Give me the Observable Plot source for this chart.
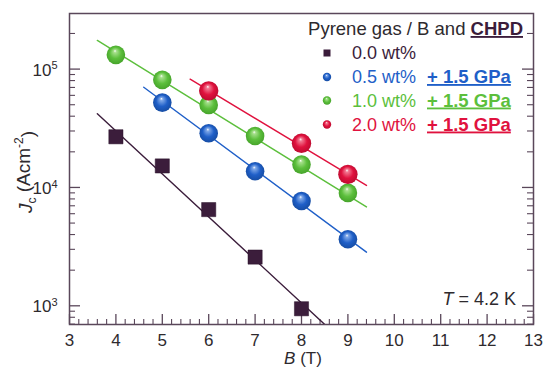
<!DOCTYPE html>
<html>
<head>
<meta charset="utf-8">
<script src="https://cdn.jsdelivr.net/npm/d3@7"></script>
<script src="https://cdn.jsdelivr.net/npm/@observablehq/plot@0.6"></script>
<style>
  html, body { margin: 0; padding: 0; background: #fff; }
  #chart svg { display: block; font-family: "Liberation Sans", Arial, sans-serif; }
</style>
</head>
<body>
<div id="chart"></div>
<script>
// ---- data ----
const b00 = [4, 5, 6, 7, 8];
const j00 = [26800, 15200, 6500, 2580, 944];
const b05 = [5, 6, 7, 8, 9];
const j05 = [52100, 28700, 13700, 7690, 3650];
const b10 = [4, 5, 6, 7, 8, 9];
const j10 = [132000, 81100, 49800, 27200, 15600, 8990];
const b20 = [6, 8, 9];
const j20 = [65500, 23600, 12900];

// fitted lines, end points
const fitB00 = [3.6, 8.6], fitJ00 = [42000, 640];
const fitB05 = [4.6, 9.4], fitJ05 = [70300, 2840];
const fitB10 = [3.6, 9.4], fitJ10 = [174600, 6850];
const fitB20 = [5.6, 9.4], fitJ20 = [82200, 10400];

const xTicks = [3, 4, 5, 6, 7, 8, 9, 10, 11, 12, 13];
const yTicks = [1e3, 1e4, 1e5];

const legendLabels = ["0.0 wt%", "0.5 wt%", "1.0 wt%", "2.0 wt%"];
const legendExtra = ["", "+ 1.5 GPa", "+ 1.5 GPa", "+ 1.5 GPa"];

// ---- styling ----
const C = {k: "#3b1d3b", b: "#1f5fc8", g: "#5cbf3c", r: "#e0123e"};
const axisColor = "#5a475a";
const textColor = "#2e2a2e";

const W = 543, H = 367;
const mL = 69, mR = 10, mT = 13, mB = 43;
const pw = W - mL - mR, ph = H - mT - mB;

const toRows = (bs, js) => bs.map((b, i) => ({B: b, J: js[i]}));
const s00 = toRows(b00, j00), s05 = toRows(b05, j05), s10 = toRows(b10, j10), s20 = toRows(b20, j20);
const f00 = toRows(fitB00, fitJ00), f05 = toRows(fitB05, fitJ05), f10 = toRows(fitB10, fitJ10), f20 = toRows(fitB20, fitJ20);

const xMinor = d3.range(3, 13.0001, 0.2).filter(v => Math.abs(v - Math.round(v)) > 1e-6);
const yMinor = [];
[100, 1000, 10000, 100000].forEach(dec => { for (let m = 2; m <= 9; m++) { const v = m * dec; if (v > 695 && v < 2.95e5) yMinor.push(v); } });

const svg = Plot.plot({
  width: W, height: H,
  marginLeft: mL, marginRight: mR, marginTop: mT, marginBottom: mB,
  style: {fontFamily: "Liberation Sans, Arial, sans-serif", fontSize: "17px", color: textColor, background: "white", overflow: "visible"},
  x: {domain: [3, 13], axis: null},
  y: {type: "log", domain: [695, 2.95e5], axis: null},
  marks: [
    // ticks (inward)
    Plot.tickX(xTicks, {x: d => d, insetTop: ph - 10, stroke: axisColor, strokeWidth: 1.3}),
    Plot.tickX(xMinor, {x: d => d, insetTop: ph - 5, stroke: axisColor, strokeWidth: 1.1}),
    Plot.tickY(yTicks, {y: d => d, insetRight: pw - 11, stroke: axisColor, strokeWidth: 1.3}),
    Plot.tickY(yMinor, {y: d => d, insetRight: pw - 6, stroke: axisColor, strokeWidth: 1.1}),
    Plot.tickY(yTicks, {y: d => d, insetLeft: pw - 11, stroke: axisColor, strokeWidth: 1.3}),
    Plot.tickY(yMinor, {y: d => d, insetLeft: pw - 6, stroke: axisColor, strokeWidth: 1.1}),
    // tick labels
    Plot.text(xTicks, {x: d => d, frameAnchor: "bottom", lineAnchor: "top", dy: 9, text: d => String(d), fill: textColor, fontSize: 17}),
    Plot.text(yTicks, {y: d => d, frameAnchor: "left", textAnchor: "end", dx: -12, dy: 1, text: d => "10^" + Math.round(Math.log10(d)), fill: textColor, fontSize: 17}),
    // fit lines
    Plot.line(f00, {x: "B", y: "J", stroke: C.k, strokeWidth: 1.4, clip: true}),
    Plot.line(f05, {x: "B", y: "J", stroke: C.b, strokeWidth: 1.4, clip: true}),
    Plot.line(f10, {x: "B", y: "J", stroke: C.g, strokeWidth: 1.4, clip: true}),
    Plot.line(f20, {x: "B", y: "J", stroke: C.r, strokeWidth: 1.4, clip: true}),
    // data
    Plot.dot(s00, {x: "B", y: "J", symbol: "square", r: 8, fill: C.k, stroke: "#2a122a", strokeWidth: 0.5}),
    Plot.dot(s05, {x: "B", y: "J", r: 9.3, fill: "url(#ballB)"}),
    Plot.dot(s10, {x: "B", y: "J", r: 9.3, fill: "url(#ballG)"}),
    Plot.dot(s20, {x: "B", y: "J", r: 9.7, fill: "url(#ballR)"}),
    Plot.frame({stroke: axisColor, strokeWidth: 1.5})
  ]
});

document.getElementById("chart").appendChild(svg);

const S = d3.select(svg);
// gradients for the spheres
const defs = S.insert("defs", ":first-child");
function ball(id, base, light, dark) {
  const g = defs.append("radialGradient").attr("id", id)
    .attr("cx", "0.5").attr("cy", "0.5").attr("r", "0.55")
    .attr("fx", "0.45").attr("fy", "0.28");
  g.append("stop").attr("offset", "0").attr("stop-color", "#ffffff");
  g.append("stop").attr("offset", "0.14").attr("stop-color", light);
  g.append("stop").attr("offset", "0.55").attr("stop-color", base);
  g.append("stop").attr("offset", "1").attr("stop-color", dark);
}
ball("ballB", C.b, "#7fa8e8", "#154a9e");
ball("ballG", C.g, "#a6e08c", "#43a028");
ball("ballR", C.r, "#f27a92", "#b80a2e");

// superscripts on the y tick labels
S.selectAll("text").each(function() {
  const t = d3.select(this);
  const m = /^10\^(\d+)$/.exec(t.text());
  if (m) {
    t.text("10");
    t.append("tspan").attr("dy", "-0.55em").attr("font-size", "11px").text(m[1]);
  }
});

// axis labels
const yl = S.append("text")
  .attr("transform", `translate(32,172) rotate(-90)`)
  .attr("text-anchor", "middle").attr("fill", textColor).attr("font-size", 19);
yl.append("tspan").attr("font-style", "italic").text("J");
yl.append("tspan").attr("font-size", 12).attr("dy", "0.3em").text("c");
yl.append("tspan").attr("dy", "-0.3em").text(" (Acm");
yl.append("tspan").attr("font-size", 12).attr("dy", "-0.6em").text("-2");
yl.append("tspan").attr("dy", "0.6em").text(")");

const xl = S.append("text").attr("x", 303).attr("y", 364).attr("text-anchor", "middle")
  .attr("fill", textColor).attr("font-size", 17);
xl.append("tspan").attr("font-style", "italic").text("B");
xl.append("tspan").text(" (T)");

// T = 4.2 K
const tl = S.append("text").attr("x", 516).attr("y", 305).attr("text-anchor", "end")
  .attr("fill", textColor).attr("font-size", 18);
tl.append("tspan").attr("font-style", "italic").text("T");
tl.append("tspan").text(" = 4.2 K");

// legend
const hdr = S.append("text").attr("x", 523).attr("y", 35).attr("text-anchor", "end")
  .attr("fill", textColor).attr("font-size", 18.5);
hdr.append("tspan").text("Pyrene gas / B and ");
hdr.append("tspan").attr("font-weight", "bold").attr("fill", "#3b1d3b")
  .attr("text-decoration", "underline").text("CHPD");

const legColors = [C.k, C.b, C.g, C.r];
const legFills = [C.k, "url(#ballB)", "url(#ballG)", "url(#ballR)"];
const rowY = [59, 83, 106.5, 130.5];
legendLabels.forEach((lab, i) => {
  const cy = rowY[i] - 6;
  if (i === 0) {
    S.append("rect").attr("x", 327 - 3.5).attr("y", cy - 3.5).attr("width", 7).attr("height", 7).attr("fill", C.k);
  } else {
    S.append("circle").attr("cx", 327).attr("cy", cy).attr("r", 4.2).attr("fill", legFills[i]);
  }
  const t = S.append("text").attr("x", 352).attr("y", rowY[i]).attr("text-anchor", "start")
    .attr("fill", legColors[i]).attr("font-size", 18);
  t.append("tspan").text(lab);
  if (legendExtra[i]) {
    t.append("tspan").attr("x", 427).attr("font-weight", "bold").attr("font-size", 18.5)
      .attr("text-decoration", "underline").text(legendExtra[i]);
  }
});
</script>
</body>
</html>
